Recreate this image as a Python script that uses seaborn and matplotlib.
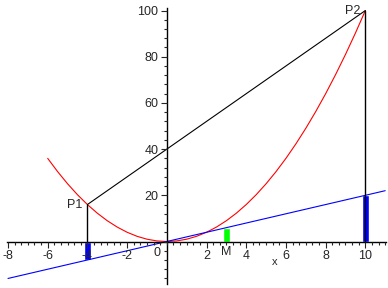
import matplotlib
matplotlib.use("Agg")
import matplotlib.pyplot as plt
import seaborn as sns
import pandas as pd
import numpy as np

# parabola samples y = x^2
parab_x = [-6, -5.5, -5, -4.5, -4, -3.5, -3, -2.5, -2, -1.5, -1, -0.5, 0, 0.5, 1, 1.5, 2,
           2.5, 3, 3.5, 4, 4.5, 5, 5.5, 6, 6.5, 7, 7.5, 8, 8.5, 9, 9.5, 10]
parab_y = [36, 30.25, 25, 20.25, 16, 12.25, 9, 6.25, 4, 2.25, 1, 0.25, 0, 0.25, 1, 2.25, 4,
           6.25, 9, 12.25, 16, 20.25, 25, 30.25, 36, 42.25, 49, 56.25, 64, 72.25, 81, 90.25, 100]
# blue line
line_x = [-8, 11]
line_y = [-16, 22]
# secant P1-P2
sec_x = [-4, 10]
sec_y = [16, 100]
# points
point_names = ["P1", "P2"]
point_x = [-4, 10]
point_y = [16, 100]
# bars
bar_x = [-4, 10, 3]
bar_y = [-8, 20, 6]
bar_colors = ["#0000ff", "#0000ff", "#00ff00"]
xticks = [-8, -6, -4, -2, 2, 4, 6, 8, 10]
yticks = [20, 40, 60, 80, 100]

sns.set_style("white")
plt.rcParams['font.family'] = ['Liberation Sans', 'DejaVu Sans']

fig = plt.figure(figsize=(3.88, 2.88), dpi=100)
ax = fig.add_axes([7/388, 1 - 284/288, 379/388, 276/288])
ax.set_xlim(-8.05, 11.04)
ax.set_ylim(-18.4, 101.1)

# bars
ax.bar(bar_x, bar_y, width=0.32, color=bar_colors, zorder=2)

sns.lineplot(x=parab_x, y=parab_y, color="#ff0000", lw=0.8, ax=ax, zorder=3, sort=False)
sns.lineplot(x=line_x, y=line_y, color="#0000ff", lw=0.8, ax=ax, zorder=3)
sns.lineplot(x=sec_x, y=sec_y, color="black", lw=0.8, ax=ax, zorder=3)
for px, py in zip(point_x, point_y):
    ax.plot([px, px], [0, py], color="black", lw=1.0, zorder=3)
for name, px, py in zip(point_names, point_x, point_y):
    ax.text(px - 0.25, py, name, ha="right", va="center", fontsize=9)
ax.text(3, -1.8, "M", ha="center", va="top", fontsize=9)
ax.text(5.45, -8.7, "x", ha="center", va="center", fontsize=8)
ax.text(-0.5, -2.2, "0", ha="center", va="top", fontsize=9, zorder=1)

for s in ["top", "right"]:
    ax.spines[s].set_visible(False)
ax.spines["left"].set_position(("data", 0))
ax.spines["bottom"].set_position(("data", 0))
for s in ["left", "bottom"]:
    ax.spines[s].set_linewidth(1.0)
    ax.spines[s].set_color("black")
    ax.spines[s].set_zorder(4)
ax.xaxis.set_zorder(5)
ax.yaxis.set_zorder(5)

ax.set_xticks(xticks)
ax.set_xticklabels([str(t) for t in xticks])
ax.set_yticks(yticks)
ax.set_yticklabels([str(t) for t in yticks])
ax.set_xticks(np.arange(-8, 11.01, 1/3), minor=True)
ax.set_yticks(np.arange(-16, 100.01, 4), minor=True)
ax.tick_params(axis="x", which="both", direction="out", width=0.8, pad=2, labelsize=9, bottom=True)
ax.tick_params(axis="y", which="both", direction="out", width=0.8, pad=2, labelsize=9, left=True)
ax.tick_params(which="major", length=4)
ax.tick_params(which="minor", length=2.5)

fig.savefig("out.png", dpi=100)
